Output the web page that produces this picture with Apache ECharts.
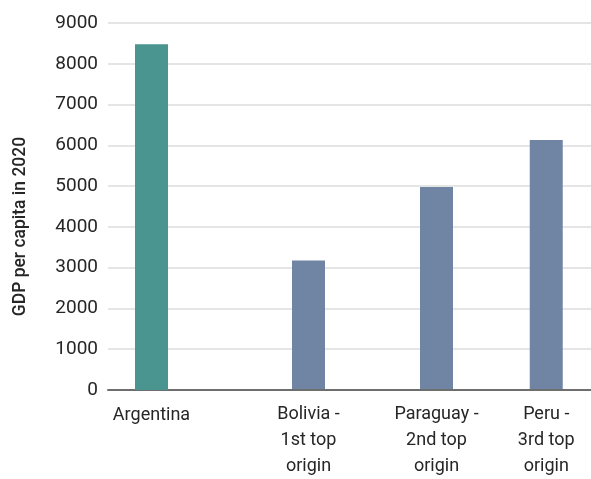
<!DOCTYPE html>
<html><head><meta charset="utf-8">
<script src="https://cdn.jsdelivr.net/npm/echarts@6/dist/echarts.min.js"></script>
<style>html,body{margin:0;padding:0;background:#fff}#c{width:591px;height:479px}</style>
</head><body><div id="c"></div>
<script>
// ---- data ----
const categories = ['Argentina', 'Bolivia -\n1st top\norigin', 'Paraguay -\n2nd top\norigin', 'Peru -\n3rd top\norigin'];
const gdpValues = [8480, 3160, 4970, 6120];
const yAxisName = 'GDP per capita in 2020';
const yMin = 0, yMax = 9000, yInterval = 1000;

// ---- layout / style ----
const barColors = ['#4a9590', '#7084a4', '#7084a4', '#7084a4'];
const plotLeft = 108, plotTop = 23, plotBottom = 89;
const barCenters = [151.5, 308.5, 436.5, 556.5];
const slotWidth = 110;
const font = 'Roboto';
const textColor = '#262626';

const grids = [{left: plotLeft, right: 0, top: plotTop, bottom: plotBottom}];
const xAxes = [{
  type: 'category', gridIndex: 0, data: [''],
  axisLine: {show: true, lineStyle: {color: '#6e6e6e', width: 2}},
  axisTick: {show: false}, axisLabel: {show: false}, splitLine: {show: false}
}];
const yAxes = [{
  type: 'value', gridIndex: 0, min: yMin, max: yMax, interval: yInterval,
  name: yAxisName, nameLocation: 'middle', nameGap: 78,
  nameTextStyle: {fontFamily: font, fontSize: 17.5, fontWeight: 500, color: textColor, padding: [0, 40, 0, 0]},
  axisLine: {show: false}, axisTick: {show: false},
  axisLabel: {fontFamily: font, fontSize: 19, color: textColor, margin: 10, formatter: v => String(v)},
  splitLine: {lineStyle: {color: '#dcdcdc', width: 1.5}}
}];
const series = [];
categories.forEach((cat, i) => {
  grids.push({left: barCenters[i] - slotWidth / 2, width: slotWidth, top: plotTop, bottom: plotBottom});
  xAxes.push({
    type: 'category', gridIndex: i + 1, data: [cat],
    axisLine: {show: false}, axisTick: {show: false}, splitLine: {show: false},
    axisLabel: {interval: 0, fontFamily: font, fontSize: 18, lineHeight: 26, color: textColor, margin: 12, align: 'center'}
  });
  yAxes.push({type: 'value', gridIndex: i + 1, min: yMin, max: yMax, interval: yInterval, show: false, splitLine: {show: false}});
  series.push({
    type: 'bar', xAxisIndex: i + 1, yAxisIndex: i + 1, data: [gdpValues[i]],
    barWidth: 33, itemStyle: {color: barColors[i]}, z: 3
  });
});

const chart = echarts.init(document.getElementById('c'), null, {renderer: 'canvas'});
chart.setOption({
  animation: false,
  backgroundColor: '#fff',
  grid: grids, xAxis: xAxes, yAxis: yAxes, series: series
});
</script></body></html>
